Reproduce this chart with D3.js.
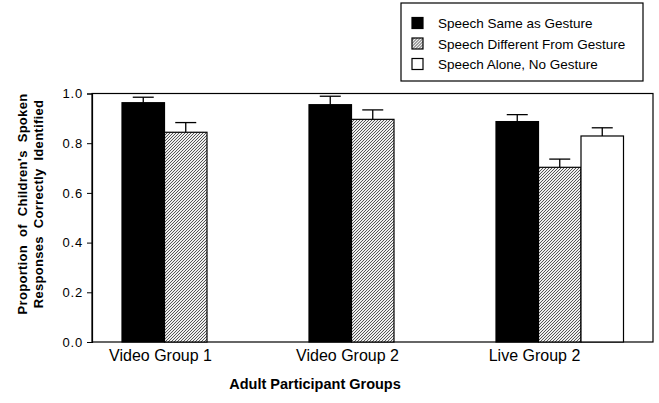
<!DOCTYPE html>
<html>
<head>
<meta charset="utf-8">
<script src="https://cdn.jsdelivr.net/npm/d3@7"></script>
<style>
  body { margin: 0; background: #fff; }
  text { font-family: "Liberation Sans", Arial, sans-serif; fill: #000; }
</style>
</head>
<body>
<svg id="chart" width="659" height="403"></svg>
<script>
// groups and series
const groups = ["Video Group 1", "Video Group 2", "Live Group 2"];
const seriesNames = ["Speech Same as Gesture", "Speech Different From Gesture", "Speech Alone, No Gesture"];
// mean proportion per group (null = no bar)
const sameVals = [0.963, 0.955, 0.887];
const diffVals = [0.844, 0.896, 0.703];
const aloneVals = [null, null, 0.829];
// top of error bar
const sameErr = [0.985, 0.989, 0.915];
const diffErr = [0.883, 0.934, 0.736];
const aloneErr = [null, null, 0.862];
const yTicks = [0, 0.2, 0.4, 0.6, 0.8, 1.0];

const svg = d3.select("#chart");
const m = {left: 92, right: 6, top: 93.5, bottom: 61};
const W = 659, H = 403;

// hatch pattern (fine diagonal lines, ///)
const defs = svg.append("defs");
const pat = defs.append("pattern").attr("id", "hatch")
  .attr("patternUnits", "userSpaceOnUse").attr("width", 3).attr("height", 3);
pat.append("rect").attr("width", 3).attr("height", 3).attr("fill", "#eee");
pat.append("path").attr("d", "M-1,1 l2,-2 M0,3 l3,-3 M2,4 l2,-2")
  .attr("stroke", "#444").attr("stroke-width", 0.9);

const fills = ["#000", "url(#hatch)", "#fff"];

const x0 = d3.scaleBand().domain(groups).range([m.left, W - m.right]);
const x1 = d3.scaleBand().domain(d3.range(3)).range([30, 30 + 42.5 * 3]);
const y = d3.scaleLinear().domain([0, 1]).range([H - m.bottom, m.top]);

// frame
svg.append("rect").attr("x", m.left).attr("y", m.top)
  .attr("width", W - m.right - m.left).attr("height", H - m.bottom - m.top)
  .attr("fill", "none").attr("stroke", "#000").attr("stroke-width", 1.2);

// bars
const rows = [];
groups.forEach((g, i) => {
  [sameVals, diffVals, aloneVals].forEach((arr, s) => {
    const errs = [sameErr, diffErr, aloneErr][s];
    if (arr[i] != null) rows.push({g, s, v: arr[i], e: errs[i]});
  });
});

const bar = svg.append("g").selectAll("g").data(rows).join("g");
bar.append("rect")
  .attr("x", d => x0(d.g) + x1(d.s))
  .attr("y", d => y(d.v))
  .attr("width", x1.bandwidth())
  .attr("height", d => y(0) - y(d.v))
  .attr("fill", d => fills[d.s])
  .attr("stroke", "#000").attr("stroke-width", 1.2);
bar.append("line")
  .attr("x1", d => x0(d.g) + x1(d.s) + x1.bandwidth() / 2)
  .attr("x2", d => x0(d.g) + x1(d.s) + x1.bandwidth() / 2)
  .attr("y1", d => y(d.v)).attr("y2", d => y(d.e))
  .attr("stroke", "#000").attr("stroke-width", 1.3);
bar.append("line")
  .attr("x1", d => x0(d.g) + x1(d.s) + x1.bandwidth() / 2 - 10.5)
  .attr("x2", d => x0(d.g) + x1(d.s) + x1.bandwidth() / 2 + 10.5)
  .attr("y1", d => y(d.e)).attr("y2", d => y(d.e))
  .attr("stroke", "#000").attr("stroke-width", 1.3);

// y axis
const yAxis = svg.append("g").attr("transform", `translate(${m.left},0)`)
  .call(d3.axisLeft(y).tickValues(yTicks).tickFormat(d3.format(".1f")).tickSize(5).tickPadding(4));
yAxis.select(".domain").attr("stroke-width", 1.2);
yAxis.selectAll("text").style("font-size", "13px").style("letter-spacing", "0.8px")
  .style("font-family", "Liberation Sans, Arial, sans-serif");

// category labels
svg.append("g").selectAll("text").data(groups).join("text")
  .attr("x", d => x0(d) + x0.bandwidth() / 2 - 25)
  .attr("y", 361)
  .attr("text-anchor", "middle")
  .style("font-size", "16px")
  .text(d => d);

// x title
svg.append("text").attr("x", 315).attr("y", 389).attr("text-anchor", "middle")
  .style("font-size", "14.5px").style("font-weight", "bold")
  .text("Adult Participant Groups");

// y title
const yt = svg.append("text").attr("transform", "translate(0,204) rotate(-90)")
  .attr("text-anchor", "middle").style("font-size", "13px").style("font-weight", "bold")
  .style("word-spacing", "4px").style("letter-spacing", "0.3px");
yt.append("tspan").attr("x", 0).attr("y", 27).text("Proportion of Children's Spoken");
yt.append("tspan").attr("x", 0).attr("y", 43).text("Responses Correctly Identified");

// legend
const lg = svg.append("g");
lg.append("rect").attr("x", 401).attr("y", 3).attr("width", 242).attr("height", 78)
  .attr("fill", "#fff").attr("stroke", "#000").attr("stroke-width", 1.2);
const li = lg.selectAll("g.item").data(seriesNames).join("g").attr("class", "item")
  .attr("transform", (d, i) => `translate(412,${23 + i * 20.5})`);
li.append("rect").attr("x", 0).attr("y", -5.5).attr("width", 11).attr("height", 11)
  .attr("fill", (d, i) => fills[i]).attr("stroke", "#000").attr("stroke-width", 1.2);
li.append("text").attr("x", 26).attr("y", 5).style("font-size", "13.5px").text(d => d);
</script>
</body>
</html>
